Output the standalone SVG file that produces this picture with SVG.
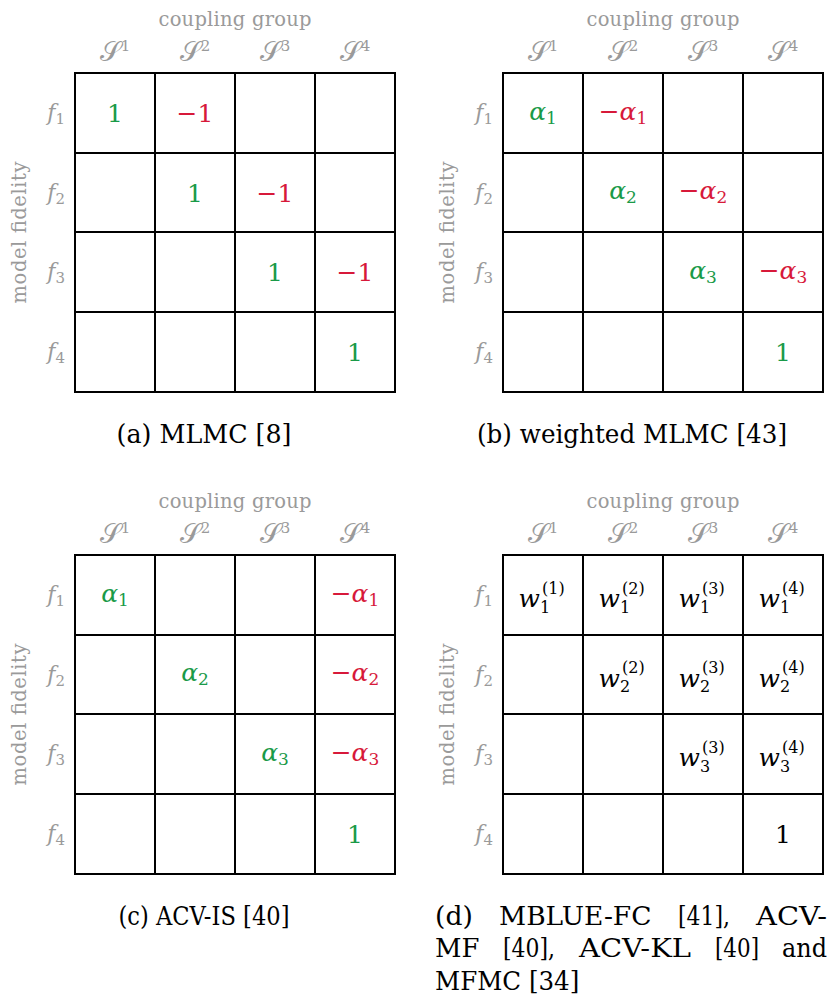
<svg xmlns="http://www.w3.org/2000/svg" width="832" height="1003" viewBox="0 0 832 1003" font-family="DejaVu Serif, serif">
<style>
.grid{fill:none;stroke:#000;stroke-width:2}
.lbl{fill:#9a9a9a}
.hdr{font-size:19.5px}
.fl{font-size:22px}
.mi{font-style:italic}
.up{font-style:normal}
.S{font-size:27px;fill:#9a9a9a}
.val{font-size:25px;text-anchor:middle}
.m{font-size:25px}
.s{font-size:16px}
.g{fill:#1a9a48}
.r{fill:#d7193a}
.k{fill:#000}
.cap{font-size:26.5px;fill:#000}
</style>
<defs>
<g id="frame">
<path class="grid" d="M75 73H395V392H75Z M155 73V392 M235 73V392 M315 73V392 M75 153H395 M75 232H395 M75 312H395"/>
<text class="lbl hdr" x="235" y="26" text-anchor="middle" textLength="153">coupling group</text>
<text class="S" x="115" y="61" text-anchor="middle">𝒮<tspan class="lbl up" font-size="15" dy="-10">1</tspan></text>
<text class="S" x="195" y="61" text-anchor="middle">𝒮<tspan class="lbl up" font-size="15" dy="-10">2</tspan></text>
<text class="S" x="275" y="61" text-anchor="middle">𝒮<tspan class="lbl up" font-size="15" dy="-10">3</tspan></text>
<text class="S" x="355" y="61" text-anchor="middle">𝒮<tspan class="lbl up" font-size="15" dy="-10">4</tspan></text>
<text class="lbl fl mi" x="65" y="120" text-anchor="end">f<tspan class="up" font-size="15" dy="4">1</tspan></text>
<text class="lbl fl mi" x="65" y="199.5" text-anchor="end">f<tspan class="up" font-size="15" dy="4">2</tspan></text>
<text class="lbl fl mi" x="65" y="279" text-anchor="end">f<tspan class="up" font-size="15" dy="4">3</tspan></text>
<text class="lbl fl mi" x="65" y="359" text-anchor="end">f<tspan class="up" font-size="15" dy="4">4</tspan></text>
<text class="lbl hdr" transform="translate(26,232.5) rotate(-90)" text-anchor="middle" textLength="142">model fidelity</text>
</g>
</defs>

<g id="panel-a">
<use href="#frame"/>
<g id="a-f1-S1"><text class="val g" x="115" y="122">1</text></g>
<g id="a-f1-S2"><text class="val r" x="195" y="122">−1</text></g>
<g id="a-f2-S2"><text class="val g" x="195" y="201.5">1</text></g>
<g id="a-f2-S3"><text class="val r" x="275" y="201.5">−1</text></g>
<g id="a-f3-S3"><text class="val g" x="275" y="281">1</text></g>
<g id="a-f3-S4"><text class="val r" x="355" y="281">−1</text></g>
<g id="a-f4-S4"><text class="val g" x="355" y="361">1</text></g>
<text id="cap-a" class="cap" x="204" y="443" text-anchor="middle" textLength="175" lengthAdjust="spacingAndGlyphs">(a) MLMC [8]</text>
</g>

<g id="panel-b" transform="translate(428,0)">
<use href="#frame"/>
<g id="b-f1-S1"><text class="val g" x="115" y="119.5"><tspan class="mi">α</tspan><tspan font-size="17" dy="4">1</tspan></text></g>
<g id="b-f1-S2"><text class="val r" x="195" y="119.5">−<tspan class="mi">α</tspan><tspan font-size="17" dy="4">1</tspan></text></g>
<g id="b-f2-S2"><text class="val g" x="195" y="199"><tspan class="mi">α</tspan><tspan font-size="17" dy="4">2</tspan></text></g>
<g id="b-f2-S3"><text class="val r" x="275" y="199">−<tspan class="mi">α</tspan><tspan font-size="17" dy="4">2</tspan></text></g>
<g id="b-f3-S3"><text class="val g" x="275" y="278.5"><tspan class="mi">α</tspan><tspan font-size="17" dy="4">3</tspan></text></g>
<g id="b-f3-S4"><text class="val r" x="355" y="278.5">−<tspan class="mi">α</tspan><tspan font-size="17" dy="4">3</tspan></text></g>
<g id="b-f4-S4"><text class="val g" x="355" y="361">1</text></g>
<text id="cap-b" class="cap" x="204" y="443" text-anchor="middle" textLength="310" lengthAdjust="spacingAndGlyphs">(b) weighted MLMC [43]</text>
</g>

<g id="panel-c" transform="translate(0,482)">
<use href="#frame"/>
<g id="c-f1-S1"><text class="val g" x="115" y="119.5"><tspan class="mi">α</tspan><tspan font-size="17" dy="4">1</tspan></text></g>
<g id="c-f1-S4"><text class="val r" x="355" y="119.5">−<tspan class="mi">α</tspan><tspan font-size="17" dy="4">1</tspan></text></g>
<g id="c-f2-S2"><text class="val g" x="195" y="199"><tspan class="mi">α</tspan><tspan font-size="17" dy="4">2</tspan></text></g>
<g id="c-f2-S4"><text class="val r" x="355" y="199">−<tspan class="mi">α</tspan><tspan font-size="17" dy="4">2</tspan></text></g>
<g id="c-f3-S3"><text class="val g" x="275" y="278.5"><tspan class="mi">α</tspan><tspan font-size="17" dy="4">3</tspan></text></g>
<g id="c-f3-S4"><text class="val r" x="355" y="278.5">−<tspan class="mi">α</tspan><tspan font-size="17" dy="4">3</tspan></text></g>
<g id="c-f4-S4"><text class="val g" x="355" y="361">1</text></g>
<text id="cap-c" class="cap" x="204" y="443" text-anchor="middle" textLength="171" lengthAdjust="spacingAndGlyphs">(c) ACV-IS [40]</text>
</g>

<g id="panel-d" transform="translate(428,482)">
<use href="#frame"/>
<g id="d-f1-S1"><text class="m k mi" x="112" y="125" text-anchor="end">w</text><text class="s k" x="114" y="111.5">(1)</text><text class="s k" x="112" y="130.5">1</text></g>
<g id="d-f1-S2"><text class="m k mi" x="192" y="125" text-anchor="end">w</text><text class="s k" x="194" y="111.5">(2)</text><text class="s k" x="192" y="130.5">1</text></g>
<g id="d-f1-S3"><text class="m k mi" x="272" y="125" text-anchor="end">w</text><text class="s k" x="274" y="111.5">(3)</text><text class="s k" x="272" y="130.5">1</text></g>
<g id="d-f1-S4"><text class="m k mi" x="352" y="125" text-anchor="end">w</text><text class="s k" x="354" y="111.5">(4)</text><text class="s k" x="352" y="130.5">1</text></g>
<g id="d-f2-S2"><text class="m k mi" x="192" y="204.5" text-anchor="end">w</text><text class="s k" x="194" y="191">(2)</text><text class="s k" x="192" y="210">2</text></g>
<g id="d-f2-S3"><text class="m k mi" x="272" y="204.5" text-anchor="end">w</text><text class="s k" x="274" y="191">(3)</text><text class="s k" x="272" y="210">2</text></g>
<g id="d-f2-S4"><text class="m k mi" x="352" y="204.5" text-anchor="end">w</text><text class="s k" x="354" y="191">(4)</text><text class="s k" x="352" y="210">2</text></g>
<g id="d-f3-S3"><text class="m k mi" x="272" y="284" text-anchor="end">w</text><text class="s k" x="274" y="270.5">(3)</text><text class="s k" x="272" y="289.5">3</text></g>
<g id="d-f3-S4"><text class="m k mi" x="352" y="284" text-anchor="end">w</text><text class="s k" x="354" y="270.5">(4)</text><text class="s k" x="352" y="289.5">3</text></g>
<g id="d-f4-S4"><text class="val k" x="355" y="361">1</text></g>
<g id="cap-d" class="cap">
<text x="7" y="443" textLength="37.8" lengthAdjust="spacingAndGlyphs">(d)</text>
<text x="71" y="443" textLength="152.5" lengthAdjust="spacingAndGlyphs">MBLUE-FC</text>
<text x="250" y="443" textLength="51.9" lengthAdjust="spacingAndGlyphs">[41],</text>
<text x="328" y="443" textLength="71" lengthAdjust="spacingAndGlyphs">ACV-</text>
<text x="7" y="475" textLength="44.4" lengthAdjust="spacingAndGlyphs">MF</text>
<text x="75" y="475" textLength="51.9" lengthAdjust="spacingAndGlyphs">[40],</text>
<text x="151" y="475" textLength="112" lengthAdjust="spacingAndGlyphs">ACV-KL</text>
<text x="287" y="475" textLength="44" lengthAdjust="spacingAndGlyphs">[40]</text>
<text x="354" y="475" textLength="45" lengthAdjust="spacingAndGlyphs">and</text>
<text x="7" y="507.5" textLength="144.3" lengthAdjust="spacingAndGlyphs">MFMC [34]</text>
</g>
</g>
</svg>
